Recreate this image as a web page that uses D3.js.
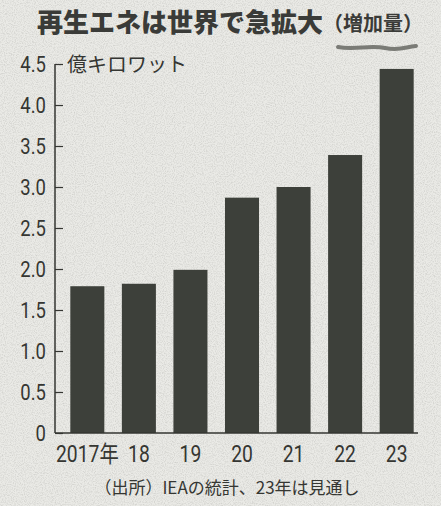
<!DOCTYPE html>
<html>
  <head>
    <meta charset="utf-8">
    <script src="https://d3js.org/d3.v7.min.js"></script>
    <style>
      body { margin: 0; background: #e7e7e3; }
      svg { display: block; }
    </style>
  </head>
  <body>
    <svg></svg>
    <script>
      var years = ['2017年', '18', '19', '20', '21', '22', '23'];
      var values = [1.79, 1.82, 1.99, 2.87, 3.0, 3.39, 4.44];
      var yTicks = [0, 0.5, 1.0, 1.5, 2.0, 2.5, 3.0, 3.5, 4.0, 4.5];

      var width = 441, height = 506;
      var ink = '#353632';
      var numFont = "Roboto, 'Noto Sans CJK JP', sans-serif";
      var jpFont = "'Noto Sans CJK JP', sans-serif";
      var squeeze = 0.84; // printed digits are condensed

      var svg = d3.select('svg')
        .attr('width', width)
        .attr('height', height);

      // paper speckle
      var defs = svg.append('defs');
      var f = defs.append('filter').attr('id', 'paper');
      f.append('feTurbulence').attr('type', 'fractalNoise')
        .attr('baseFrequency', 0.9).attr('numOctaves', 2).attr('seed', 3);
      f.append('feColorMatrix').attr('type', 'matrix')
        .attr('values', '0 0 0 0 0.35  0 0 0 0 0.35  0 0 0 0 0.33  0 0 0 -1.6 0.95');
      f.append('feComposite').attr('in2', 'SourceGraphic').attr('operator', 'in');

      svg.append('rect').attr('width', width).attr('height', height).attr('fill', '#eaeae6');
      svg.append('rect').attr('width', width).attr('height', height).attr('fill', '#fff')
        .attr('filter', 'url(#paper)').attr('opacity', 0.45);

      var x = d3.scaleBand()
        .domain(years)
        .range([60, 424])
        .paddingInner(0.34)
        .paddingOuter(0.2);

      var y = d3.scaleLinear()
        .domain([0, 4.5])
        .range([433, 64]);

      // title
      var title = svg.append('text')
        .attr('font-family', jpFont)
        .attr('x', 37)
        .attr('y', 32)
        .attr('fill', '#3a3b38');
      title.append('tspan').attr('font-size', 26).style('font-weight', 900).text('再生エネは世界で急拡大');
      title.append('tspan').attr('font-size', 20).attr('dy', -1).style('font-weight', 700).text('（増加量）');

      svg.append('path')
        .attr('d', 'M338,47 C355,50 370,45 385,48 S405,47 416,46')
        .attr('fill', 'none')
        .attr('stroke', '#7a7b76')
        .attr('stroke-width', 4)
        .attr('stroke-linecap', 'round');

      // bars
      svg.selectAll('.bar')
        .data(values)
        .enter().append('rect')
        .attr('class', 'bar')
        .attr('x', function (d, i) { return x(years[i]); })
        .attr('width', x.bandwidth())
        .attr('y', function (d) { return y(d); })
        .attr('height', function (d) { return y(0) - y(d); })
        .attr('fill', '#3d403a');

      // y axis
      var yAxis = svg.append('g')
        .attr('transform', 'translate(55,0)')
        .call(d3.axisRight(y).tickValues(yTicks).tickSize(8).tickFormat(''));
      yAxis.select('.domain').remove();
      yAxis.selectAll('line').attr('stroke', ink).attr('stroke-width', 1.2);

      svg.append('line')
        .attr('x1', 55).attr('x2', 55)
        .attr('y1', y(4.5)).attr('y2', y(0))
        .attr('stroke', ink).attr('stroke-width', 1.5);
      svg.append('line')
        .attr('x1', 55).attr('x2', 418)
        .attr('y1', y(0)).attr('y2', y(0))
        .attr('stroke', ink).attr('stroke-width', 1.5);

      svg.selectAll('.ylab')
        .data(yTicks)
        .enter().append('text')
        .attr('class', 'ylab')
        .attr('font-family', numFont)
        .attr('transform', function (d) { return 'translate(46,' + (y(d) + 8) + ') scale(' + squeeze + ',1)'; })
        .attr('text-anchor', 'end')
        .attr('font-size', 22)
        .attr('fill', ink)
        .text(function (d) { return d === 0 ? '0' : d3.format('.1f')(d); });

      svg.append('text')
        .attr('font-family', jpFont)
        .attr('x', 67)
        .attr('y', 72)
        .attr('font-size', 20)
        .attr('fill', ink)
        .text('億キロワット');

      // x labels
      svg.selectAll('.xlab')
        .data(years)
        .enter().append('text')
        .attr('class', 'xlab')
        .attr('font-family', numFont)
        .attr('transform', function (d) {
          return 'translate(' + (x(d) + x.bandwidth() / 2) + ',462) scale(' + squeeze + ',1)';
        })
        .attr('text-anchor', 'middle')
        .attr('font-size', 23)
        .attr('fill', ink)
        .text(function (d) { return d; });

      // source
      svg.append('text')
        .attr('font-family', jpFont)
        .attr('x', 227)
        .attr('y', 494)
        .attr('text-anchor', 'middle')
        .attr('font-size', 17)
        .attr('fill', ink)
        .text('（出所）IEAの統計、23年は見通し');
    </script>
  </body>
</html>
